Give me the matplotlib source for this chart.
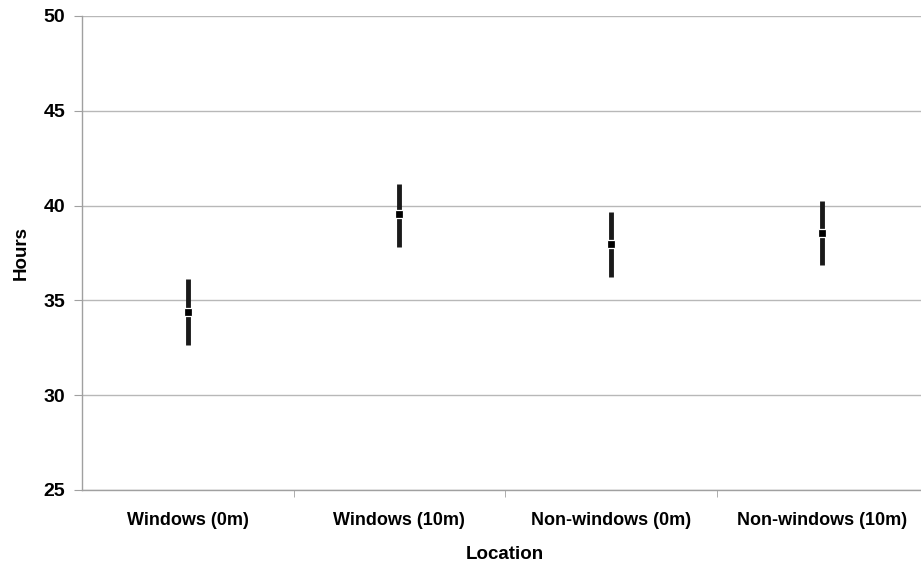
import matplotlib
matplotlib.use("Agg")
import matplotlib.pyplot as plt
import numpy as np

categories = ["Windows (0m)", "Windows (10m)", "Non-windows (0m)", "Non-windows (10m)"]
means = [34.4, 39.55, 37.95, 38.55]
lower = [32.65, 37.8, 36.25, 36.85]
upper = [36.15, 41.15, 39.65, 40.25]

plt.rcParams['font.family'] = ['Liberation Sans', 'DejaVu Sans']
fig = plt.figure(figsize=(9.21, 5.67), dpi=100)
ax = fig.add_axes([82/921, 77/567, 4*211.5/921, 474/567])

x = np.arange(len(categories))
m = np.array(means)
yerr = [m - np.array(lower), np.array(upper) - m]
ax.errorbar(x, m, yerr=yerr, fmt='none', ecolor='#1a1a1a', elinewidth=3.5, capsize=0, zorder=3)
ax.plot(x, m, linestyle='none', marker='s', markersize=5.5, markerfacecolor='black',
        markeredgecolor='white', markeredgewidth=0.9, zorder=4)

ax.set_xlim(-0.5, 3.5)
ax.set_ylim(25, 50)
ax.set_yticks([25, 30, 35, 40, 45, 50])
ax.yaxis.grid(True, color='#b8b8b8', linewidth=1)
ax.set_axisbelow(True)

ax.set_xticks(x)
ax.set_xticklabels(categories, fontsize=13, fontweight='bold')
ax.set_xticks([0.5, 1.5, 2.5], minor=True)
ax.tick_params(axis='x', which='major', length=0, pad=16)
ax.tick_params(axis='x', which='minor', length=5, color='#a0a0a0', direction='out')
ax.tick_params(axis='y', length=6, color='#a0a0a0', labelsize=14, pad=6)
for lab in ax.get_yticklabels():
    lab.set_fontweight('bold')

for s in ['top', 'right']:
    ax.spines[s].set_visible(False)
for s in ['left', 'bottom']:
    ax.spines[s].set_color('#a0a0a0')
    ax.spines[s].set_linewidth(1)

ax.set_xlabel("Location", fontsize=13.5, fontweight='bold', labelpad=12)
ax.set_ylabel("Hours", fontsize=13.5, fontweight='bold', labelpad=10)

fig.savefig("out.png", dpi=100)
